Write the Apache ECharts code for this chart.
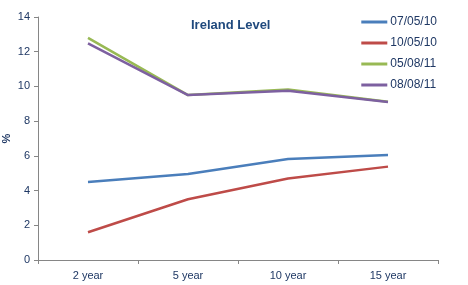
<!DOCTYPE html>
<html>
<head>
<meta charset="utf-8">
<script src="https://cdn.jsdelivr.net/npm/echarts@6/dist/echarts.min.js"></script>
<style>
  html, body { margin: 0; padding: 0; background: #fff; }
  #chart { width: 468px; height: 285px; }
</style>
</head>
<body>
<div id="chart"></div>
<script>
var categories = ['2 year', '5 year', '10 year', '15 year'];
var seriesNames = ['07/05/10', '10/05/10', '05/08/11', '08/08/11'];
var s0705 = [4.5, 4.95, 5.82, 6.05];
var s1005 = [1.6, 3.5, 4.7, 5.38];
var s0508 = [12.8, 9.5, 9.82, 9.12];
var s0808 = [12.48, 9.5, 9.75, 9.1];
var yTicks = [0, 2, 4, 6, 8, 10, 12, 14];
var colors = ['#4a7ebb', '#be4b48', '#98b954', '#7d60a0'];

var txt = '#1f3864';
var font = 'Liberation Sans';
var chart = echarts.init(document.getElementById('chart'));

function mk(i, data) {
    return {
        name: seriesNames[i],
        type: 'line',
        data: data,
        symbol: 'none',
        smooth: false,
        lineStyle: { width: 2.5, color: colors[i] },
        itemStyle: { color: colors[i] },
        z: 2 + i
    };
}

var option = {
    animation: false,
    textStyle: { fontFamily: font },
    title: {
        text: 'Ireland Level',
        left: 186,
        top: 14,
        textStyle: { color: '#1f497d', fontSize: 13, fontWeight: 'bold', fontFamily: font }
    },
    legend: {
        orient: 'vertical',
        right: 26,
        top: 11,
        itemWidth: 26,
        itemHeight: 3,
        itemGap: 9,
        icon: 'rect',
        data: seriesNames,
        textStyle: { color: txt, fontSize: 12, fontFamily: font, padding: [0, 0, 0, -2] }
    },
    grid: { left: 38, right: 30, top: 17, bottom: 25, outerBoundsMode: 'none' },
    xAxis: {
        type: 'category',
        data: categories,
        boundaryGap: true,
        axisLine: { lineStyle: { color: '#868686' } },
        axisTick: { show: true, length: 4, lineStyle: { color: '#868686' } },
        axisLabel: { color: txt, fontSize: 11, margin: 10 }
    },
    yAxis: {
        type: 'value',
        min: yTicks[0],
        max: yTicks[yTicks.length - 1],
        interval: 2,
        name: '%',
        nameLocation: 'middle',
        nameGap: 26,
        nameMoveOverlap: false,
        nameRotate: 90,
        nameTextStyle: { color: txt, fontSize: 11, fontWeight: 'bold' },
        splitLine: { show: false },
        axisLine: { show: true, lineStyle: { color: '#868686' } },
        axisTick: { show: true, length: 4, lineStyle: { color: '#868686' } },
        axisLabel: { color: txt, fontSize: 11, margin: 8 }
    },
    series: [mk(0, s0705), mk(1, s1005), mk(2, s0508), mk(3, s0808)]
};
chart.setOption(option);
</script>
</body>
</html>
